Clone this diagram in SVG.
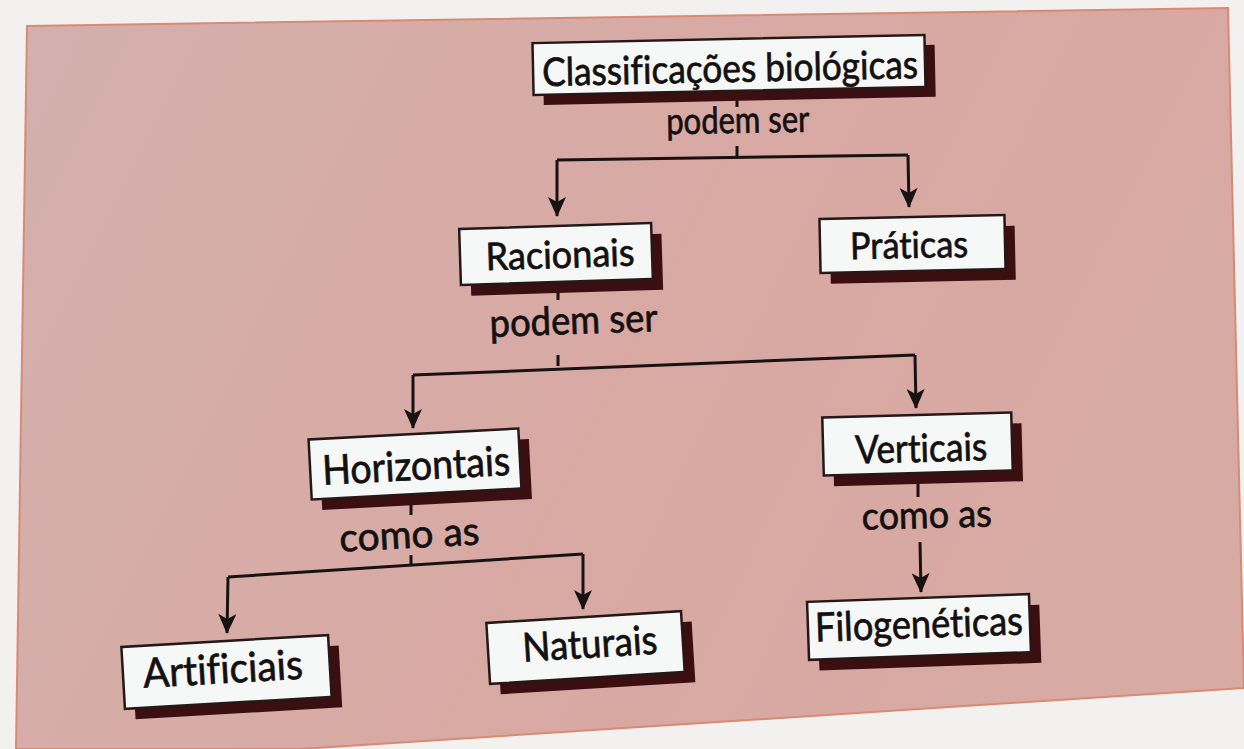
<svg xmlns="http://www.w3.org/2000/svg" width="1244" height="749" viewBox="0 0 1244 749">
<defs>
<linearGradient id="panelGrad" x1="0" y1="0" x2="1" y2="0.3">
<stop offset="0" stop-color="#d2b0ad"/>
<stop offset="0.35" stop-color="#d7aca7"/>
<stop offset="0.7" stop-color="#d9a8a2"/>
<stop offset="1" stop-color="#d7aaa3"/>
</linearGradient>
<marker id="arrow" viewBox="0 0 20 18" refX="19" refY="9" markerWidth="20" markerHeight="18" markerUnits="userSpaceOnUse" orient="auto">
<path d="M0,0 L20,9 L0,18 L5,9 Z" fill="#181212"/>
</marker>
</defs>
<style>
.shadow{fill:#3b0e10}
.box{fill:#f6f8f7;stroke:#241818;stroke-width:2.5}
.t{font-family:Lato,"Open Sans","Liberation Sans",sans-serif;fill:#141010;stroke:#141010;stroke-width:0.7;text-anchor:middle;font-variant-ligatures:none;font-feature-settings:"liga" 0,"clig" 0}
.conn{fill:none;stroke:#181212;stroke-width:3}
</style>
<rect x="0" y="0" width="1244" height="749" fill="#f3f1f0"/>
<polygon points="27,26 1228,8 1244,688 1244,688 300,749 16,749" fill="url(#panelGrad)" stroke="#d98a72" stroke-width="2"/>

<g id="connectors">
<path class="conn" d="M737,92 L737,107 M737,146 L737,157"/>
<path class="conn" d="M557,160 L908,155"/>
<path class="conn" d="M557,160 L557,216" marker-end="url(#arrow)"/>
<path class="conn" d="M908,155 L909,207" marker-end="url(#arrow)"/>
<path class="conn" d="M558,282 L558,300 M558,355 L558,366"/>
<path class="conn" d="M413,375 L915,355"/>
<path class="conn" d="M413,375 L413,428" marker-end="url(#arrow)"/>
<path class="conn" d="M915,355 L916,408" marker-end="url(#arrow)"/>
<path class="conn" d="M411,492 L411,515 M411,555 L411,565"/>
<path class="conn" d="M228,577 L583,554"/>
<path class="conn" d="M228,577 L227,633" marker-end="url(#arrow)"/>
<path class="conn" d="M583,554 L583,609" marker-end="url(#arrow)"/>
<path class="conn" d="M918,472 L918,497 M920,542 L921,592" marker-end="url(#arrow)"/>
</g>

<g id="labels">
<text class="t" x="738" y="133" font-size="37" textLength="143" lengthAdjust="spacingAndGlyphs" transform="rotate(-1 738 133)">podem ser</text>
<text class="t" x="574" y="334" font-size="39" textLength="168" lengthAdjust="spacingAndGlyphs" transform="rotate(-2 574 334)">podem ser</text>
<text class="t" x="410" y="548" font-size="39" textLength="140" lengthAdjust="spacingAndGlyphs" transform="rotate(-3 410 548)">como as</text>
<text class="t" x="927" y="528" font-size="38" textLength="130" lengthAdjust="spacingAndGlyphs" transform="rotate(-1.5 927 528)">como as</text>
</g>

<g id="n-classificacoes" transform="rotate(-1.2 729 65)">
<rect class="shadow" x="543" y="49" width="392" height="52"/>
<rect class="box" x="533" y="39" width="392" height="52"/>
<text class="t" x="730" y="82" font-size="39" textLength="376" lengthAdjust="spacingAndGlyphs">Classificações biológicas</text>
</g>

<g id="n-racionais" transform="rotate(-1.8 556 254)">
<rect class="shadow" x="470" y="237" width="192" height="56"/>
<rect class="box" x="460" y="226" width="192" height="56"/>
<text class="t" x="560" y="268" font-size="38" textLength="149" lengthAdjust="spacingAndGlyphs">Racionais</text>
</g>

<g id="n-praticas" transform="rotate(-1.2 912 244)">
<rect class="shadow" x="830" y="228" width="185" height="54"/>
<rect class="box" x="820" y="217" width="185" height="54"/>
<text class="t" x="909" y="258" font-size="37" textLength="118" lengthAdjust="spacingAndGlyphs">Práticas</text>
</g>

<g id="n-horizontais" transform="rotate(-3 415 464)">
<rect class="shadow" x="320" y="445" width="210" height="60"/>
<rect class="box" x="310" y="434" width="210" height="60"/>
<text class="t" x="416" y="480" font-size="41" textLength="188" lengthAdjust="spacingAndGlyphs">Horizontais</text>
</g>

<g id="n-verticais" transform="rotate(-1.5 917 444)">
<rect class="shadow" x="833" y="426" width="189" height="58"/>
<rect class="box" x="823" y="415" width="189" height="58"/>
<text class="t" x="921" y="462" font-size="39" textLength="132" lengthAdjust="spacingAndGlyphs">Verticais</text>
</g>

<g id="n-artificiais" transform="rotate(-3.3 226 672)">
<rect class="shadow" x="133" y="652" width="207" height="62"/>
<rect class="box" x="123" y="641" width="207" height="62"/>
<text class="t" x="223" y="683" font-size="41" textLength="160" lengthAdjust="spacingAndGlyphs">Artificiais</text>
</g>

<g id="n-naturais" transform="rotate(-3.5 585 647)">
<rect class="shadow" x="498" y="628" width="195" height="61"/>
<rect class="box" x="488" y="617" width="195" height="61"/>
<text class="t" x="590" y="658" font-size="40" textLength="135" lengthAdjust="spacingAndGlyphs">Naturais</text>
</g>

<g id="n-filogeneticas" transform="rotate(-2 919 627)">
<rect class="shadow" x="818" y="609" width="222" height="58"/>
<rect class="box" x="808" y="598" width="222" height="58"/>
<text class="t" x="919" y="638" font-size="40" textLength="208" lengthAdjust="spacingAndGlyphs">Filogenéticas</text>
</g>
</svg>
